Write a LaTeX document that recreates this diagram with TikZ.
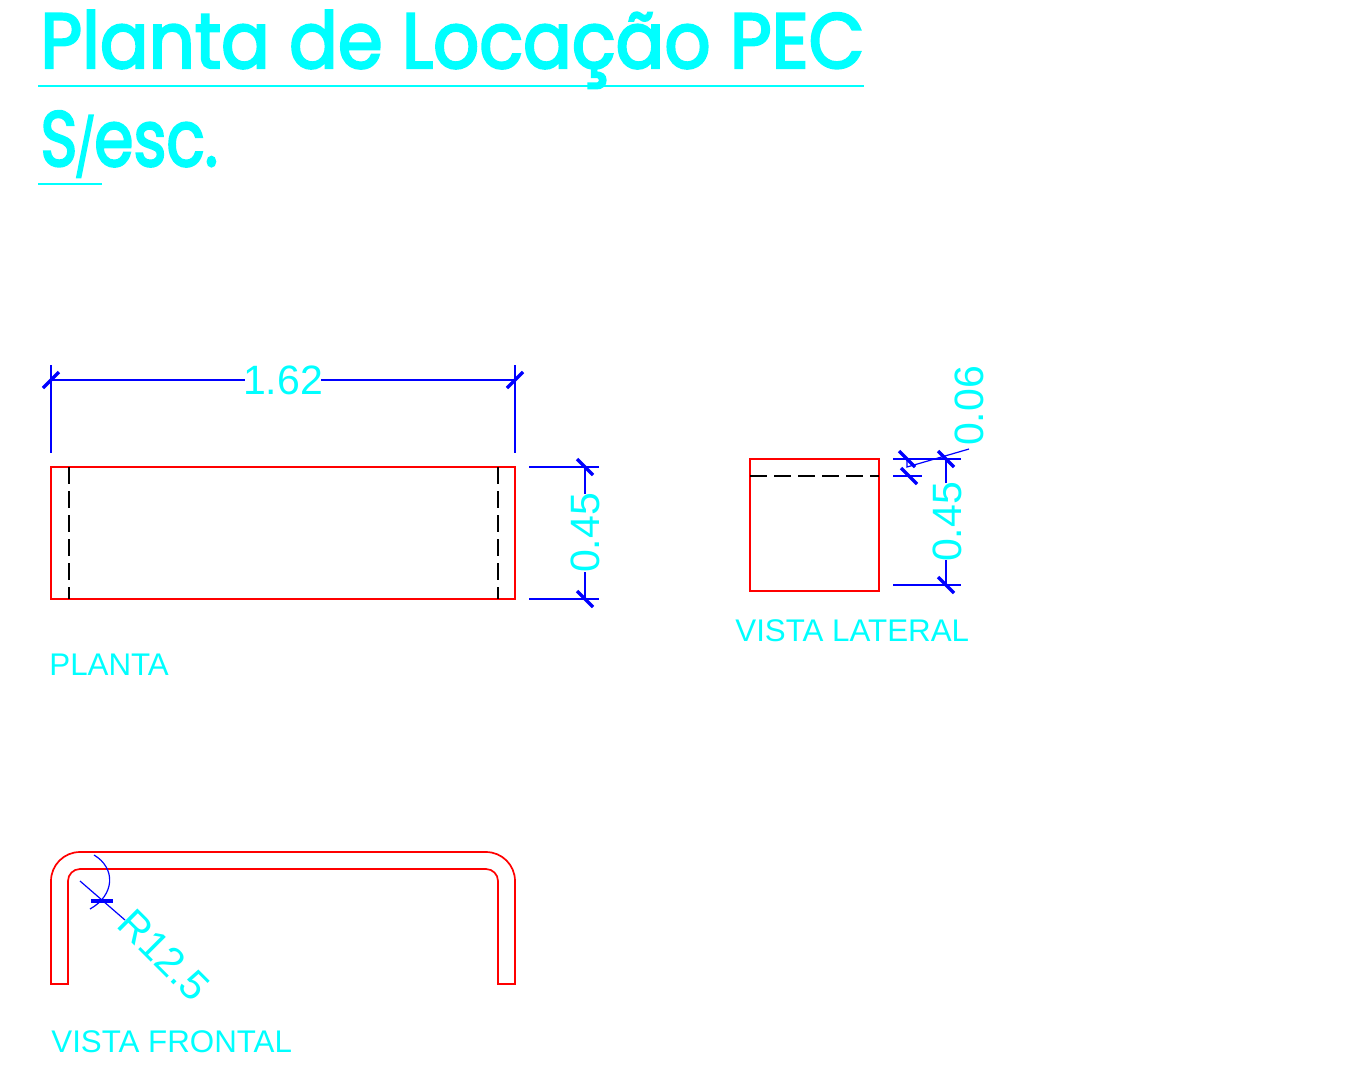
\documentclass[tikz,border=0pt]{standalone}
\usepackage{fontspec}
\setmainfont{Liberation Sans}
\newfontfamily\titlefont[FakeBold=3]{Poppins}
\definecolor{cadcyan}{RGB}{0,255,255}
\definecolor{cadblue}{RGB}{0,0,255}
\definecolor{cadred}{RGB}{255,0,0}
\tikzset{
  outline/.style={draw=cadred,line width=0.85pt,line join=miter},
  hidden/.style={draw=black,line width=1pt,dash pattern=on 8.5pt off 3.5pt},
  dimline/.style={draw=cadblue,line width=0.6pt},
  tick/.style={draw=cadblue,line width=1.7pt},
  rule/.style={draw=cadcyan,line width=0.55pt},
  dimtext/.style={text=cadcyan,inner sep=0pt,font=\fontsize{20.5}{24}\selectfont},
  viewtext/.style={text=cadcyan,inner sep=0pt,anchor=west,font=\fontsize{15.65}{18}\selectfont},
  titletext/.style={text=cadcyan,inner sep=0pt,anchor=base west,font=\titlefont\fontsize{39}{46}\selectfont}
}
\begin{document}
\begin{tikzpicture}[x=0.5pt,y=-0.5pt]
\useasboundingbox (0,0) rectangle (1348,1082);
\fill[white] (0,0) rectangle (1348,1082);
% titles
\node[titletext] (title) at (40,68) {\scalebox{0.925}[1]{Planta de Locação PEC}};
\node[titletext] (scale) at (40,166) {\scalebox{0.81}[1]{S\kern-2pt\raisebox{-1pt}{\scalebox{0.72}{/}}\kern-1pt esc.}};
\draw[rule] (38,86) -- (864,86);
\draw[rule] (38,184) -- (102,184);
% plan
\draw[outline] (51,467) rectangle (515,599);
\draw[hidden] (68.5,467) -- (68.5,599);
\draw[hidden] (497.5,467) -- (497.5,599);
\draw[dimline] (51,365) -- (51,453);
\draw[dimline] (515,365) -- (515,453);
\draw[dimline] (51,380) -- (245,380);
\draw[dimline] (321,380) -- (515,380);
\draw[tick] (43,388) -- (59,372);
\draw[tick] (507,388) -- (523,372);
\node[dimtext] (d162) at (283,380) {1.62};
\draw[dimline] (529,467) -- (599,467);
\draw[dimline] (529,599) -- (599,599);
\draw[dimline] (585,467) -- (585,494);
\draw[dimline] (585,572) -- (585,599);
\draw[tick] (577,459) -- (593,475);
\draw[tick] (577,591) -- (593,607);
\node[dimtext,rotate=90] (d045a) at (585,533) {0.45};
\node[viewtext] (planta) at (49,665) {PLANTA};
% side view
\draw[outline] (750,459) rectangle (879,591);
\draw[hidden] (750,476) -- (879,476);
\draw[dimline] (893,459) -- (961,459);
\draw[dimline] (893,476) -- (922,476);
\draw[dimline] (893,585) -- (961,585);
\draw[dimline] (946,459) -- (946,483);
\draw[dimline] (946,560) -- (946,585);
\draw[dimline] (907,459) -- (907,467) -- (969,449);
\draw[tick] (899,451) -- (915,467);
\draw[tick] (901,468) -- (917,484);
\draw[tick] (938,451) -- (954,467);
\draw[tick] (938,577) -- (954,593);
\node[dimtext,rotate=90] (d045b) at (947,522) {0.45};
\node[dimtext,rotate=90] (d006) at (969,406) {0.06};
\node[viewtext] (lateral) at (735,631) {VISTA LATERAL};
% front view
\draw[outline] (51,984) -- (51,881) arc[start angle=180,end angle=270,radius=29] -- (486,852) arc[start angle=270,end angle=360,radius=29] -- (515,984) -- (498,984) -- (498,881) arc[start angle=0,end angle=-90,radius=12] -- (80,869) arc[start angle=270,end angle=180,radius=12] -- (68,984) -- cycle;
\draw[dimline] (80,881) -- (125,920);
\draw[dimline] (94,855) .. controls (116,868) and (115,895) .. (90,909);
\draw[tick] (91,901) -- (113,901);
\node[dimtext,rotate=-45] (radius) at (164,955) {R12.5};
\node[viewtext] (frontal) at (51,1042) {VISTA FRONTAL};
\end{tikzpicture}
\end{document}
